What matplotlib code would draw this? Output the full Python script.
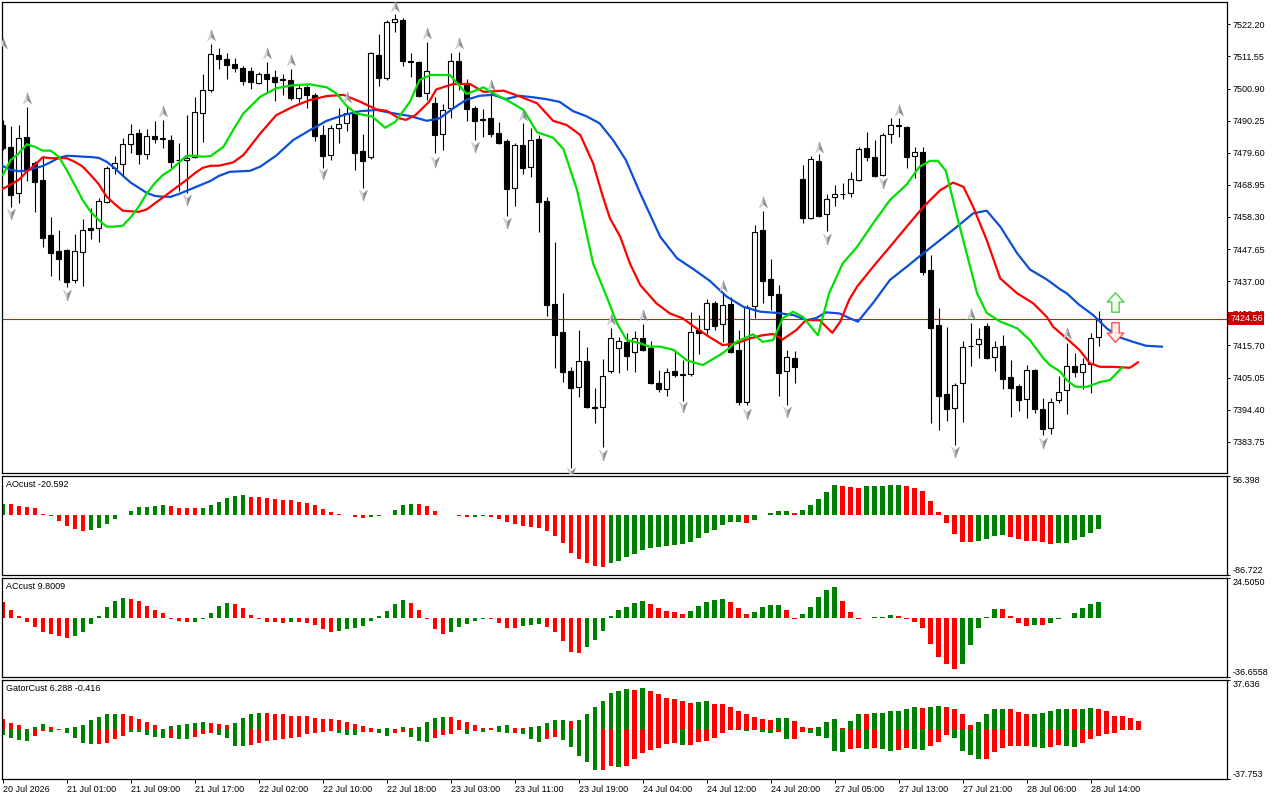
"""Graphique H1 façon MT5 : bougies + Alligator + fractales, puis AO, AC et Gator."""

import matplotlib
matplotlib.use("Agg")
import matplotlib.pyplot as plt
import numpy as np
from matplotlib.path import Path

plt.rcParams["font.family"] = ["Liberation Sans", "DejaVu Sans"]
plt.rcParams["font.size"] = 6.5

# ---------------------------------------------------------------- bougies
opens = [7488.8, 7481.5, 7466.2, 7484.8, 7476.2, 7470.6, 7452.3, 7447.0, 7447.3, 7437.4,
         7446.6, 7454.5, 7454.7, 7463.3, 7474.7, 7475.9, 7482.5, 7486.1, 7479.2, 7485.1,
         7484.1, 7483.8, 7477.2, 7477.2, 7478.2, 7492.8, 7500.4, 7512.0, 7510.7, 7509.0,
         7507.7, 7506.7, 7502.7, 7505.7, 7504.7, 7503.9, 7503.7, 7497.8, 7501.4, 7498.8,
         7485.5, 7478.8, 7487.8, 7489.5, 7492.4, 7480.2, 7478.2, 7512.0, 7504.4, 7523.0,
         7523.6, 7510.0, 7509.7, 7499.4, 7496.1, 7485.8, 7494.4, 7510.0, 7502.7, 7494.4,
         7490.8, 7491.1, 7486.1, 7483.5, 7467.9, 7482.2, 7474.9, 7484.2, 7463.6, 7429.4,
         7420.1, 7407.2, 7401.9, 7410.5, 7395.3, 7395.3, 7407.2, 7414.8, 7416.8, 7413.5,
         7418.1, 7414.8, 7403.2, 7401.2, 7407.2, 7406.2, 7406.2, 7420.8, 7421.1, 7429.8,
         7422.8, 7429.4, 7414.2, 7396.9, 7428.8, 7454.0, 7437.7, 7432.7, 7407.2, 7411.5,
         7470.9, 7457.9, 7476.9, 7459.3, 7464.9, 7465.9, 7466.2, 7470.6, 7481.2, 7478.2,
         7472.2, 7485.8, 7488.5, 7488.1, 7478.5, 7479.8, 7440.7, 7422.5, 7399.6, 7394.9,
         7403.2, 7415.5, 7416.2, 7422.1, 7411.8, 7415.5, 7405.2, 7402.2, 7397.9, 7407.5,
         7394.6, 7388.3, 7397.6, 7400.9, 7408.9, 7406.9, 7409.5, 7418.5]
highs = [7490.5, 7488.5, 7488.8, 7494.8, 7476.9, 7478.5, 7458.3, 7454.0, 7447.6, 7452.6,
         7457.6, 7461.3, 7464.6, 7475.2, 7478.5, 7484.5, 7489.1, 7487.5, 7487.5, 7490.1,
         7490.5, 7485.5, 7482.8, 7492.1, 7498.1, 7505.7, 7515.7, 7514.3, 7512.7, 7511.0,
         7508.4, 7508.0, 7506.4, 7509.7, 7507.0, 7505.7, 7507.4, 7502.1, 7502.1, 7499.4,
         7488.8, 7488.8, 7494.4, 7495.1, 7493.8, 7485.8, 7513.0, 7519.0, 7523.6, 7525.6,
         7524.3, 7512.7, 7510.0, 7516.3, 7498.1, 7495.8, 7512.7, 7513.0, 7504.1, 7495.1,
         7494.1, 7500.4, 7489.8, 7484.2, 7482.8, 7489.5, 7487.8, 7485.5, 7464.9, 7450.0,
         7433.1, 7408.5, 7420.8, 7415.2, 7401.6, 7411.2, 7421.5, 7418.5, 7419.8, 7420.5,
         7422.8, 7417.1, 7407.5, 7408.2, 7413.8, 7410.8, 7426.8, 7425.8, 7431.1, 7430.4,
         7433.1, 7431.7, 7420.8, 7429.1, 7455.6, 7460.3, 7444.3, 7435.7, 7414.2, 7413.8,
         7475.5, 7478.5, 7479.2, 7465.9, 7468.9, 7469.6, 7473.2, 7481.5, 7486.5, 7483.8,
         7486.2, 7491.1, 7491.1, 7488.5, 7481.5, 7481.5, 7445.7, 7428.1, 7421.8, 7403.2,
         7417.1, 7423.1, 7421.5, 7423.1, 7417.1, 7419.1, 7410.8, 7402.9, 7409.2, 7407.9,
         7398.2, 7398.2, 7405.5, 7416.5, 7413.2, 7411.5, 7419.8, 7427.1]
lows = [7480.5, 7461.6, 7462.9, 7470.2, 7459.9, 7448.3, 7438.7, 7437.4, 7435.1, 7436.4,
        7435.4, 7451.0, 7450.0, 7463.0, 7472.7, 7472.0, 7479.5, 7475.9, 7477.6, 7482.8,
        7481.2, 7474.4, 7466.9, 7466.2, 7477.9, 7483.2, 7499.7, 7507.4, 7504.1, 7506.4,
        7502.1, 7500.7, 7502.4, 7499.7, 7496.8, 7498.8, 7497.1, 7496.4, 7494.4, 7483.5,
        7474.5, 7477.2, 7482.8, 7486.8, 7473.9, 7467.9, 7477.5, 7501.7, 7503.7, 7519.6,
        7508.4, 7504.7, 7498.1, 7497.1, 7479.5, 7480.5, 7491.1, 7500.4, 7490.1, 7483.8,
        7484.8, 7484.8, 7482.5, 7458.6, 7461.9, 7472.5, 7471.5, 7453.3, 7425.4, 7408.2,
        7403.6, 7375.0, 7398.6, 7394.9, 7390.0, 7382.0, 7406.5, 7406.5, 7407.5, 7406.9,
        7413.8, 7402.9, 7400.2, 7398.9, 7405.2, 7397.3, 7405.5, 7412.8, 7419.5, 7420.8,
        7416.8, 7413.2, 7395.9, 7395.9, 7424.8, 7429.8, 7427.4, 7398.9, 7395.9, 7403.2,
        7456.3, 7457.6, 7458.3, 7453.6, 7461.9, 7464.3, 7464.9, 7470.2, 7476.9, 7471.6,
        7471.9, 7482.8, 7484.8, 7474.5, 7471.2, 7439.0, 7390.0, 7387.6, 7390.6, 7382.7,
        7390.3, 7408.9, 7411.5, 7411.2, 7407.2, 7401.2, 7392.0, 7394.0, 7391.6, 7393.3,
        7386.0, 7386.3, 7396.6, 7392.9, 7405.2, 7401.2, 7399.9, 7415.5]
closes = [7481.2, 7465.6, 7484.5, 7474.2, 7469.9, 7451.3, 7446.3, 7444.4, 7436.7, 7447.0,
          7454.0, 7454.1, 7463.6, 7474.4, 7476.2, 7482.5, 7485.8, 7479.2, 7485.1, 7484.1,
          7484.5, 7476.6, 7477.1, 7477.9, 7493.1, 7500.4, 7512.4, 7510.7, 7508.7, 7507.7,
          7503.4, 7503.1, 7505.7, 7504.1, 7503.1, 7503.7, 7497.8, 7501.1, 7498.8, 7485.1,
          7478.5, 7487.8, 7489.1, 7492.8, 7479.5, 7476.9, 7512.7, 7504.4, 7523.0, 7524.0,
          7510.0, 7509.7, 7498.4, 7506.7, 7485.5, 7493.8, 7510.0, 7502.7, 7494.1, 7490.1,
          7490.6, 7485.8, 7482.8, 7467.6, 7482.2, 7474.5, 7483.8, 7463.3, 7429.1, 7419.1,
          7406.9, 7401.6, 7410.5, 7395.3, 7395.1, 7405.5, 7418.1, 7417.1, 7412.2, 7418.1,
          7414.2, 7403.2, 7401.2, 7406.9, 7405.9, 7406.0, 7420.1, 7419.8, 7429.8, 7422.1,
          7429.1, 7413.5, 7396.9, 7428.4, 7453.3, 7437.1, 7432.4, 7406.5, 7411.8, 7408.5,
          7457.9, 7477.5, 7458.6, 7464.3, 7465.9, 7466.0, 7470.9, 7480.8, 7478.2, 7471.9,
          7485.5, 7488.8, 7488.7, 7478.2, 7479.8, 7440.0, 7421.5, 7398.9, 7394.6, 7402.6,
          7415.2, 7415.6, 7417.8, 7411.5, 7415.2, 7404.6, 7401.6, 7397.6, 7407.5, 7394.6,
          7388.0, 7396.9, 7400.2, 7408.9, 7406.9, 7409.5, 7418.1, 7424.56]

# ---------------------------------------------------------------- Alligator (décalé vers le futur)
jaw_x = [0, 1, 2, 3, 4, 5, 6, 7, 8, 9, 10, 11, 12, 13, 14, 15, 16, 17, 18, 19, 20, 21, 22, 23,
         24, 25, 26, 27, 28.4, 30.9, 32.2, 34.2, 36.3, 38.4, 40.5, 42.6, 44.7, 46.7, 48.8, 50.9,
         53, 54.6, 56.3, 57.9, 59.6, 61.3, 62.9, 64.6, 66.3, 67.9, 69.6, 71.3, 72.9, 74.6, 76.3,
         77.9, 79.6, 82.2, 84.3, 86.4, 88.4, 90.5, 92.6, 94.7, 96.7, 98.8, 100.5, 101.7, 102.9,
         104.6, 105.9, 106.9, 108.8, 110.9, 113, 115.1, 117.2, 119.3, 121.3, 123, 124.7, 126.8,
         128.4, 130.5, 132.2, 133, 134.6, 136.3, 138, 139.6, 141.3, 142.9, 144.9]
jaw = [7475.2, 7473.9, 7473.5, 7473.6, 7474.5, 7475.2, 7476.5, 7477.9, 7478.6, 7478.5, 7478.3,
       7478.2, 7477.9, 7476.6, 7474.5, 7472.0, 7469.7, 7468.0, 7466.3, 7465.3, 7465.0, 7465.0,
       7465.9, 7467.0, 7468.1, 7469.2, 7470.3, 7471.9, 7473.3, 7473.6, 7475.0, 7478.7, 7483.8,
       7487.1, 7490.2, 7492.1, 7493.4, 7493.8, 7492.7, 7491.8, 7490.2, 7491.0, 7494.3, 7497.1,
       7498.5, 7498.8, 7497.4, 7498.5, 7498.0, 7497.4, 7496.5, 7493.4, 7491.8, 7489.4, 7483.8,
       7477.2, 7466.7, 7451.7, 7444.6, 7440.9, 7437.1, 7431.9, 7428.5, 7426.9, 7426.5, 7425.8,
       7424.1, 7424.8, 7426.7, 7426.3, 7424.7, 7423.6, 7429.8, 7437.4, 7441.8, 7446.3, 7450.7,
       7455.1, 7459.5, 7460.4, 7455.1, 7446.3, 7440.9, 7437.6, 7434.3, 7433.0, 7429.1, 7425.8,
       7421.4, 7418.4, 7416.9, 7415.6, 7415.3]
teeth_x = [0, 2, 3, 4, 5, 6, 8, 9, 10, 11, 12, 13, 14, 15, 16, 17, 18, 19, 20, 21, 22, 23, 24,
           25, 26, 27, 28.8, 30.1, 32.2, 34.2, 36.3, 38.4, 40.5, 42.6, 44.7, 46.7, 48, 49.5, 50.4,
           51.6, 53.3, 54.2, 56.3, 58.4, 60.1, 62.6, 64.7, 66.8, 68.8, 70.5, 72.2, 73.8, 74.9,
           75.9, 77.2, 78.4, 79.7, 81.7, 83.4, 85, 86.7, 88.4, 90, 91.7, 93.4, 95, 96.3, 97.5,
           99.2, 100.4, 102.1, 103.7, 104.7, 105.8, 106.8, 108.8, 110.9, 113, 115.1, 117.2,
           118.8, 120.1, 121.3, 123, 124.7, 126.8, 128.8, 130.5, 131.3, 133, 134.6, 135.9,
           137.2, 138.8, 140.9, 141.9]
teeth = [7467.6, 7470.6, 7473.3, 7475.5, 7478.1, 7477.8, 7477.8, 7476.6, 7475.0, 7472.2,
         7469.2, 7465.0, 7462.6, 7460.4, 7460.2, 7460.0, 7460.8, 7462.8, 7464.7, 7466.7,
         7468.7, 7470.6, 7472.8, 7474.6, 7475.3, 7475.3, 7476.4, 7478.9, 7486.0, 7492.1,
         7494.9, 7497.1, 7498.4, 7498.8, 7496.5, 7494.0, 7493.5, 7491.1, 7490.5, 7492.1,
         7496.5, 7500.6, 7502.4, 7502.4, 7499.8, 7500.2, 7498.2, 7496.0, 7490.2, 7488.8,
         7485.5, 7476.1, 7466.1, 7457.9, 7451.7, 7442.9, 7435.7, 7429.7, 7426.3, 7424.7,
         7421.4, 7418.4, 7415.8, 7416.4, 7418.0, 7419.1, 7419.5, 7417.7, 7420.8, 7424.1,
         7424.1, 7419.9, 7423.6, 7430.8, 7435.2, 7441.8, 7448.4, 7455.1, 7461.7, 7467.2,
         7469.7, 7468.3, 7461.7, 7450.7, 7437.9, 7433.0, 7429.7, 7425.2, 7421.9, 7418.0,
         7414.2, 7409.8, 7408.6, 7408.6, 7408.3, 7410.1]
lips_x = [0, 1, 2, 3, 4, 5, 6, 7, 8, 9, 10, 11, 12, 13, 14, 15, 16, 17, 18, 19, 20, 21, 22,
          23, 24, 25, 26, 27.6, 28.8, 30.1, 32.2, 34.2, 36.3, 38.4, 40.5, 41.7, 42.9, 44.1,
          46.2, 47.8, 49.1, 50.9, 52.1, 53.5, 55.9, 58, 60.1, 61.7, 63.4, 65.1, 66.8, 68.8,
          70.1, 71.8, 73.8, 75.5, 76.8, 78, 79.7, 80.8, 82.2, 83.9, 85.5, 87.5, 90, 91.7, 93.8,
          95, 96.3, 97.5, 98.8, 100, 101.9, 103.3, 105, 106.8, 108.8, 110.9, 113, 114.6, 115.9,
          116.9, 117.9, 119.3, 120.5, 121.8, 123, 124.7, 126.8, 128.4, 130.1, 130.9, 132.2,
          133, 134.1, 135.6, 137.2, 138.4, 139.9]
lips = [7472.2, 7477.2, 7479.4, 7482.4, 7481.6, 7480.3, 7480.3, 7478.3, 7473.9, 7468.9,
        7463.9, 7460.0, 7457.3, 7455.1, 7455.1, 7455.4, 7458.2, 7461.7, 7466.1, 7469.5,
        7472.2, 7473.9, 7476.3, 7478.6, 7478.6, 7478.3, 7478.5, 7481.6, 7487.1, 7492.7,
        7498.2, 7501.0, 7502.0, 7502.3, 7501.3, 7499.3, 7495.4, 7492.7, 7491.6, 7487.9,
        7489.9, 7496.5, 7503.7, 7505.4, 7505.4, 7499.1, 7501.3, 7498.8, 7496.5, 7493.8,
        7486.4, 7484.6, 7480.8, 7467.2, 7442.9, 7431.8, 7423.0, 7417.5, 7416.4, 7415.3,
        7415.3, 7414.2, 7410.8, 7409.2, 7413.1, 7416.9, 7419.4, 7416.9, 7417.5, 7424.7,
        7426.9, 7425.2, 7419.1, 7433.0, 7442.9, 7448.4, 7456.2, 7463.9, 7469.1, 7475.0,
        7476.9, 7476.9, 7473.6, 7458.4, 7446.2, 7433.0, 7426.5, 7423.6, 7421.4, 7417.5,
        7411.4, 7409.2, 7407.0, 7404.2, 7402.0, 7402.0, 7403.6, 7404.2, 7408.3]

# ---------------------------------------------------------------- fractales et signaux
frac_up_bar = [0, 3, 20, 26, 33, 36, 43, 49, 53, 57, 61, 65, 76, 80, 90, 95, 102, 112, 121, 133]
frac_up_px = [7516.0, 7497.8, 7493.4, 7518.7, 7512.7, 7510.4, 7498.1, 7528.3, 7519.3, 7516.0,
              7502.1, 7492.1, 7424.4, 7425.8, 7435.4, 7463.3, 7481.5, 7493.8, 7426.1, 7419.8]
frac_dn_bar = [1, 8, 23, 40, 45, 54, 59, 63, 71, 75, 85, 93, 98, 103, 110, 119, 130]
frac_dn_px = [7459.3, 7432.4, 7463.9, 7472.5, 7465.6, 7476.5, 7481.5, 7456.3, 7373.4, 7379.3,
              7395.3, 7393.0, 7393.6, 7451.0, 7469.6, 7380.3, 7383.3]
sig_up_bar, sig_up_px = [139], [7430.0]
sig_dn_bar, sig_dn_px = [139], [7420.3]

# ---------------------------------------------------------------- oscillateurs
ao = [15.9, 15.4, 13.5, 12.0, 9.6, 1.0, -1.9, -8.2, -15.9, -20.7, -22.6, -21.7, -18.8, -13.0,
      -5.8, -0.5, 5.8, 11.1, 12.0, 13.0, 14.5, 13.0, 10.1, 10.0, 9.6, 10.1, 14.5, 19.3, 25.1,
      27.5, 28.9, 26.5, 26.0, 24.6, 23.1, 22.2, 21.7, 19.3, 17.8, 14.5, 9.2, 4.3, 1.0, -0.5,
      -2.4, -4.8, -3.4, -1.9, -0.5, 7.2, 14.5, 15.9, 15.7, 13.0, 5.8, 0.5, -0.5, -1.0, -2.9,
      -2.4, -1.4, -2.9, -6.3, -10.6, -13.5, -15.4, -16.9, -19.3, -23.1, -29.9, -40.0, -54.9,
      -63.1, -68.9, -73.2, -74.7, -68.9, -66.0, -61.2, -55.9, -50.1, -47.2, -45.8, -44.3,
      -43.4, -41.9, -38.6, -32.8, -25.5, -21.2, -14.5, -10.6, -9.6, -11.1, -6.7, 0.5, 2.4,
      5.8, 5.9, 2.4, 7.2, 14.5, 23.1, 33.7, 43.4, 41.9, 40.5, 39.5, 41.9, 42.0, 42.1, 42.9,
      43.4, 41.9, 38.6, 35.2, 20.2, 3.9, -11.1, -27.5, -38.6, -38.7, -37.1, -35.2, -30.4,
      -28.9, -31.3, -34.2, -37.1, -37.3, -38.6, -41.4, -40.0, -39.9, -36.1, -31.3, -25.5,
      -20.592]
ac = [9.9, 4.8, 0.8, -2.5, -5.6, -8.7, -9.9, -11.2, -12.4, -11.2, -8.7, -3.7, 1.0, 6.6, 10.3,
      12.0, 11.4, 10.3, 7.2, 4.8, 2.9, -0.6, -2.1, -2.5, -2.4, -0.6, 2.9, 7.2, 9.1, 8.5, 5.8,
      1.7, -0.6, -2.5, -2.9, -3.0, -2.5, -2.9, -3.3, -4.3, -7.0, -8.7, -8.5, -7.2, -6.2, -5.0,
      -1.9, 1.0, 4.1, 8.5, 11.0, 9.3, 4.8, -0.6, -7.0, -10.1, -8.7, -5.8, -3.9, -1.9, -0.6,
      -0.7, -3.3, -6.4, -6.5, -5.0, -4.5, -3.9, -5.6, -8.7, -14.3, -21.1, -21.7, -18.2, -13.8,
      -8.3, 1.0, 4.8, 6.6, 9.3, 10.3, 8.5, 6.0, 4.1, 3.5, 2.3, 4.1, 7.2, 9.7, 11.0, 11.6, 9.7,
      6.0, 2.5, 3.5, 6.6, 7.9, 8.0, 4.8, -0.6, 2.3, 6.6, 12.8, 16.9, 18.8, 10.3, 3.5, -0.6,
      -0.4, 0.2, 0.4, 1.4, 1.0, -1.0, -2.5, -6.2, -16.1, -24.2, -28.5, -31.6, -28.5, -16.7,
      -6.2, 0.2, 5.4, 5.3, 0.8, -3.1, -5.0, -4.3, -4.4, -3.1, -0.6, -0.4, 3.1, 6.0, 8.5,
      9.8009]
gator_up = [7.6, 4.6, 3.0, 0.0, 1.5, 3.8, 1.5, 0.1, 0.8, 1.8, 3.3, 6.8, 9.1, 11.4, 12.1, 12.1,
            9.9, 8.1, 5.3, 3.3, 0.0, 2.3, 3.3, 3.8, 4.6, 5.3, 4.6, 3.8, 3.3, 4.6, 8.9, 11.4,
            12.7, 12.7, 12.1, 11.4, 10.6, 10.1, 10.1, 8.9, 8.1, 7.6, 6.8, 5.6, 3.8, 2.3, 0.8,
            0.0, 0.8, 0.0, 1.5, 0.8, 1.5, 5.3, 8.4, 9.1, 9.1, 6.8, 5.3, 3.0, 0.8, 0.8, 2.3, 3.0,
            0.8, 0.8, 1.5, 2.3, 4.6, 6.8, 7.0, 6.1, 6.8, 11.4, 16.7, 22.0, 28.1, 29.6, 31.1,
            30.4, 31.2, 28.9, 26.6, 24.3, 22.8, 21.3, 20.5, 20.6, 21.3, 19.7, 19.0, 16.7, 14.4,
            11.4, 9.1, 7.6, 6.8, 8.4, 8.5, 6.1, 1.5, 0.8, 1.5, 5.3, 7.6, 0.8, 6.1, 12.1, 12.0,
            12.2, 12.3, 13.7, 14.4, 15.9, 16.7, 16.6, 16.7, 17.5, 16.7, 15.2, 11.4, 3.0, 5.3,
            11.4, 15.2, 15.9, 15.2, 12.9, 11.4, 12.1, 12.2, 13.7, 15.2, 15.9, 15.2, 15.9, 16.0,
            15.2, 13.7, 10.6, 9.9, 8.4, 6.288]
gator_dn = [-4.3, -6.8, -8.1, -8.9, -5.1, -1.3, -2.0, -0.5, -2.8, -6.8, -10.4, -11.1, -10.9,
            -10.1, -7.6, -5.1, -2.0, -2.0, -4.6, -5.8, -6.8, -6.8, -7.6, -7.6, -6.1, -3.8, -3.0,
            -4.3, -6.8, -12.7, -12.7, -11.9, -10.6, -8.9, -8.4, -7.6, -6.8, -5.6, -3.8, -3.0,
            -2.3, -1.0, -2.8, -4.3, -4.3, -1.8, -2.0, -2.8, -5.1, -2.8, -2.3, -6.1, -9.1, -9.9,
            -6.8, -4.6, -3.8, -0.8, -3.8, -1.5, -2.3, -0.8, -2.3, -3.0, -3.0, -3.8, -7.6, -9.9,
            -7.6, -6.1, -8.4, -13.7, -20.5, -25.1, -31.1, -31.0, -28.1, -28.9, -28.1, -22.8,
            -18.2, -15.9, -14.4, -11.4, -10.6, -12.1, -12.0, -9.9, -9.1, -6.8, -3.0, -0.8, -0.8,
            -1.5, -0.8, -2.3, -3.0, -2.3, -7.6, -7.6, -2.3, -3.0, -5.3, -6.8, -16.7, -17.5,
            -15.2, -14.4, -15.2, -14.4, -15.2, -16.7, -15.9, -14.4, -15.2, -15.3, -12.9, -9.9,
            -4.6, -6.8, -16.7, -19.7, -22.8, -22.7, -17.5, -14.4, -12.9, -12.9, -12.8, -13.7,
            -14.4, -13.7, -12.1, -12.9, -13.7, -10.6, -7.6, -5.3, -3.8, -3.0, -0.8, -0.6,
            -0.416]
gator_up_col = ("rrrrggrrgg" "gggggrrrrr" "rgggggrrrg" "gggrrrrrrr" "rrrrrrrrgr"
                "grggggrrrr" "rrggrrgggg" "grgggggggr" "grrrrrrggr" "rrrrrrrggr"
                "rrgggrggrg" "gggggrggrr" "rrggggrrrg" "ggggrggrrr" "rrr")
gator_dn_col = ("ggggrrgrgg" "ggrrrrgggg" "grggrrrggg" "grrrrrrrrr" "rrgggrrggr"
                "rgggrrrrgr" "grggrgggrr" "gggggrrgrr" "rrrrrgrrrr" "rgggrggrgr"
                "rgggggrrgr" "ggrrggrrrg" "gggrrrrrrg" "grrggrrrrr" "rrr")

# ---------------------------------------------------------------- axes
price_ticks = [7522.20, 7511.55, 7500.90, 7490.25, 7479.60, 7468.95, 7458.30, 7447.65,
               7437.00, 7426.35, 7415.70, 7405.05, 7394.40, 7383.75]
time_bars = [0, 8, 16, 24, 32, 40, 48, 56, 64, 72, 80, 88, 96, 104, 112, 120, 128, 136]
time_labels = ["20 Jul 2026", "21 Jul 01:00", "21 Jul 09:00", "21 Jul 17:00", "22 Jul 02:00",
               "22 Jul 10:00", "22 Jul 18:00", "23 Jul 03:00", "23 Jul 11:00", "23 Jul 19:00",
               "24 Jul 04:00", "24 Jul 12:00", "24 Jul 20:00", "27 Jul 05:00", "27 Jul 13:00",
               "27 Jul 21:00", "28 Jul 06:00", "28 Jul 14:00"]
ao_range = (-86.722, 56.398)
ac_range = (-36.6558, 24.5050)
gator_range = (-37.753, 37.636)

GREEN = "#008000"
RED = "#ff0000"
XLIM = (-0.09, 153.04)
W, H = 1280, 800


def px_box(left, top, right, bottom):
    return [left / W, 1 - bottom / H, (right - left) / W, (bottom - top) / H]


def style_axes(ax):
    ax.set_xlim(*XLIM)
    for sp in ax.spines.values():
        sp.set_color("black")
        sp.set_linewidth(0.9)
    ax.yaxis.tick_right()
    ax.tick_params(axis="y", length=2.5, width=0.7, pad=1.5, labelsize=6.5)
    ax.tick_params(axis="x", bottom=False, labelbottom=False)


def range_ticks(ax, lo, hi, fmt):
    ax.set_ylim(lo, hi)
    ax.set_yticks([lo, hi], [fmt.format(lo), fmt.format(hi)])
    lab_lo, lab_hi = ax.get_yticklabels()
    lab_lo.set_verticalalignment("bottom")
    lab_hi.set_verticalalignment("top")


def trend_colors(vals, first):
    cols = [first]
    for a, b in zip(vals[:-1], vals[1:]):
        cols.append(GREEN if b > a else RED)
    return cols


def arrow_halves(up=True):
    s = 1 if up else -1
    left = Path([(0, s), (0, -0.35 * s), (-0.72, -0.95 * s), (0, s)], closed=True)
    right = Path([(0, s), (0.72, -0.95 * s), (0, -0.35 * s), (0, s)], closed=True)
    return left, right


def block_arrow(up=True):
    s = 1 if up else -1
    pts = [(0, s), (0.85, 0.05 * s), (0.38, 0.05 * s), (0.38, -s), (-0.38, -s),
           (-0.38, 0.05 * s), (-0.85, 0.05 * s), (0, s)]
    return Path(pts, closed=True)


fig = plt.figure(figsize=(12.8, 8), dpi=100)
ax_p = fig.add_axes(px_box(2, 2, 1227, 473))
ax_ao = fig.add_axes(px_box(2, 476, 1227, 575))
ax_ac = fig.add_axes(px_box(2, 578, 1227, 677))
ax_gt = fig.add_axes(px_box(2, 680, 1227, 779))
for a in (ax_p, ax_ao, ax_ac, ax_gt):
    style_axes(a)

# ---- prix
o, h, l, c = (np.array(v) for v in (opens, highs, lows, closes))
bars = np.arange(len(o))
bull = c >= o
ax_p.vlines(bars, l, h, color="black", lw=0.8, zorder=2)
ax_p.bar(bars, np.abs(c - o), bottom=np.minimum(o, c), width=0.6,
         color=np.where(bull, "white", "black"), edgecolor="black", lw=0.8, zorder=3)

ax_p.plot(jaw_x, jaw, color="#0b4fd6", lw=1.6, zorder=4)
ax_p.plot(teeth_x, teeth, color="#ff0000", lw=1.6, zorder=4)
ax_p.plot(lips_x, lips, color="#00e000", lw=1.6, zorder=4)

ax_p.axhline(closes[-1], color="#ff0000", lw=0.8, zorder=1)

for up, xs, ys in ((True, frac_up_bar, frac_up_px), (False, frac_dn_bar, frac_dn_px)):
    left, right = arrow_halves(up)
    ax_p.plot(xs, ys, ls="none", marker=left, ms=8, mfc="#d6d8e0", mec="#b0b0b8",
              mew=0.3, zorder=5)
    ax_p.plot(xs, ys, ls="none", marker=right, ms=8, mfc="#8a8c92", mec="#8a8c92",
              mew=0.3, zorder=5)

ax_p.plot(sig_up_bar, sig_up_px, ls="none", marker=block_arrow(True), ms=14,
          mfc="#f0fff0", mec="#4cd04c", mew=1.0, zorder=6)
ax_p.plot(sig_dn_bar, sig_dn_px, ls="none", marker=block_arrow(False), ms=14,
          mfc="#fff0f0", mec="#ff5050", mew=1.0, zorder=6)

ax_p.set_ylim(7373.4, 7529.6)
ax_p.set_yticks(price_ticks, [f"{v:.2f}" for v in price_ticks])
ax_p.text(1.0025, closes[-1], f"{closes[-1]:.2f}", transform=ax_p.get_yaxis_transform(),
          color="white", fontsize=6.5, va="center", ha="left", zorder=10, clip_on=False,
          bbox=dict(boxstyle="square,pad=0.2", fc="#c80000", ec="none"))

# ---- AO
ax_ao.bar(np.arange(len(ao)), ao, width=0.55, color=trend_colors(ao, GREEN), lw=0)
range_ticks(ax_ao, *ao_range, "{:.3f}")
ax_ao.text(0.0035, 0.915, f"AOcust {ao[-1]:.3f}", transform=ax_ao.transAxes,
           va="center", ha="left", fontsize=6.5)

# ---- AC
ax_ac.bar(np.arange(len(ac)), ac, width=0.55, color=trend_colors(ac, RED), lw=0)
range_ticks(ax_ac, *ac_range, "{:.4f}")
ax_ac.text(0.0035, 0.912, f"ACcust {ac[-1]:.4f}", transform=ax_ac.transAxes,
           va="center", ha="left", fontsize=6.5)

# ---- Gator
gx = np.arange(len(gator_up))
ax_gt.bar(gx, gator_up, width=0.55, lw=0,
          color=[GREEN if ch == "g" else RED for ch in gator_up_col])
ax_gt.bar(gx, gator_dn, width=0.55, lw=0,
          color=[GREEN if ch == "g" else RED for ch in gator_dn_col])
range_ticks(ax_gt, *gator_range, "{:.3f}")
ax_gt.text(0.0035, 0.913, f"GatorCust {gator_up[-1]:.3f} {gator_dn[-1]:.3f}",
           transform=ax_gt.transAxes, va="center", ha="left", fontsize=6.5)

ax_gt.tick_params(axis="x", bottom=True, labelbottom=True, length=3, width=0.7, pad=1.5,
                  labelsize=6.5)
ax_gt.set_xticks(time_bars, time_labels)
for lab in ax_gt.get_xticklabels():
    lab.set_horizontalalignment("left")

fig.savefig("out.png", dpi=100, facecolor="white")
